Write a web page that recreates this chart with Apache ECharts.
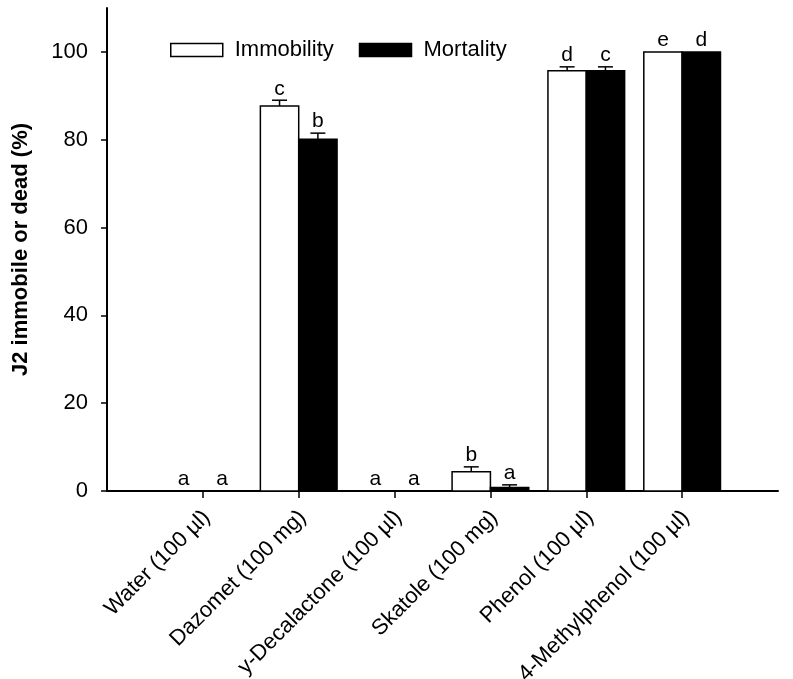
<!DOCTYPE html>
<html>
<head>
<meta charset="utf-8">
<script src="https://cdn.jsdelivr.net/npm/echarts@6/dist/echarts.min.js"></script>
<style>
html,body{margin:0;padding:0;background:#fff;}
#chart{width:793px;height:679px;}
</style>
</head>
<body>
<div id="chart"></div>
<script>
var categories = ['Water (100 µl)', 'Dazomet (100 mg)', 'y-Decalactone (100 µl)', 'Skatole (100 mg)', 'Phenol (100 µl)', '4-Methylphenol (100 µl)'];
var immobility = [0, 87.7, 0, 4.4, 95.7, 100];
var immobilityErr = [0, 1.3, 0, 1.1, 0.9, 0];
var immobilityLetters = ['a', 'c', 'a', 'b', 'd', 'e'];
var mortality = [0, 80.1, 0, 0.8, 95.7, 100];
var mortalityErr = [0, 1.4, 0, 0.6, 0.9, 0];
var mortalityLetters = ['a', 'b', 'a', 'a', 'c', 'd'];
var yTicks = [0, 20, 40, 60, 80, 100];

var FONT = '"Liberation Sans", Arial, sans-serif';

function makeData(vals, errs) {
  return vals.map(function (v, i) { return [i + 1, v, errs[i]]; });
}

function makeRender(side, fill, letters) {
  return function (params, api) {
    var x = api.value(0), y = api.value(1), e = api.value(2);
    var letter = letters[params.dataIndex];
    var cx = x + side * 0.2;
    var pl = api.coord([cx - 0.2, 0]);
    var pr = api.coord([cx + 0.2, y]);
    var pc = api.coord([cx, y]);
    var pe = api.coord([cx, y + e]);
    var children = [];
    if (y > 0) {
      children.push({
        type: 'rect',
        shape: { x: pl[0], y: pr[1], width: pr[0] - pl[0], height: pl[1] - pr[1] },
        style: { fill: fill, stroke: '#000', lineWidth: 1.5 }
      });
    }
    if (e > 0) {
      children.push({ type: 'line', shape: { x1: pc[0], y1: pc[1], x2: pe[0], y2: pe[1] }, style: { stroke: '#000', lineWidth: 1.5 } });
      children.push({ type: 'line', shape: { x1: pe[0] - 7.5, y1: pe[1], x2: pe[0] + 7.5, y2: pe[1] }, style: { stroke: '#000', lineWidth: 1.5 } });
    }
    children.push({
      type: 'text',
      style: { x: pe[0], y: pe[1] - 1, text: letter, fill: '#000', font: '21px ' + FONT, textAlign: 'center', textVerticalAlign: 'bottom' }
    });
    return { type: 'group', children: children };
  };
}

var chart = echarts.init(document.getElementById('chart'), null, { renderer: 'canvas' });
chart.setOption({
  backgroundColor: '#fff',
  animation: false,
  textStyle: { fontFamily: FONT },
  grid: { left: 107, right: 15, top: 8, bottom: 188, containLabel: false, outerBoundsMode: 'none' },
  legend: {
    left: 165,
    top: 34,
    itemWidth: 52,
    itemHeight: 13,
    itemGap: 25,
    icon: 'rect',
    textStyle: { fontSize: 22, color: '#000', fontFamily: FONT, padding: [0, 0, 0, 7] },
    data: [
      { name: 'Immobility', itemStyle: { color: '#fff', borderColor: '#000', borderWidth: 1.5 } },
      { name: 'Mortality', itemStyle: { color: '#000', borderColor: '#000', borderWidth: 1.5 } }
    ]
  },
  xAxis: {
    type: 'value',
    min: 0,
    max: 7,
    splitLine: { show: false },
    axisLine: { show: true, lineStyle: { color: '#000', width: 2 } },
    axisTick: { show: true, length: 7, lineStyle: { color: '#000', width: 1.5 }, customValues: categories.map(function (c, i) { return i + 1; }) },
    axisLabel: {
      rotate: 45,
      margin: 23,
      fontSize: 22,
      color: '#000',
      fontFamily: FONT,
      customValues: categories.map(function (c, i) { return i + 1.04; }),
      formatter: function (v) { return categories[Math.round(v) - 1] || ''; }
    }
  },
  yAxis: {
    type: 'value',
    min: 0,
    max: 110,
    name: 'J2 immobile or dead (%)',
    nameLocation: 'middle',
    nameRotate: 90,
    nameGap: 75,
    nameTextStyle: { fontSize: 22, fontWeight: 'bold', color: '#000', fontFamily: FONT },
    splitLine: { show: false },
    axisLine: { show: true, lineStyle: { color: '#000', width: 2 } },
    axisTick: { show: true, length: 6, lineStyle: { color: '#000', width: 1.5 }, customValues: yTicks },
    axisLabel: { fontSize: 22, color: '#000', margin: 19, fontFamily: FONT, customValues: yTicks }
  },
  series: [
    {
      name: 'Immobility',
      type: 'custom',
      itemStyle: { color: '#fff', borderColor: '#000' },
      renderItem: makeRender(-1, '#fff', immobilityLetters),
      encode: { x: 0, y: [1, 2] },
      data: makeData(immobility, immobilityErr)
    },
    {
      name: 'Mortality',
      type: 'custom',
      itemStyle: { color: '#000' },
      renderItem: makeRender(1, '#000', mortalityLetters),
      encode: { x: 0, y: [1, 2] },
      data: makeData(mortality, mortalityErr)
    }
  ]
});
</script>
</body>
</html>
